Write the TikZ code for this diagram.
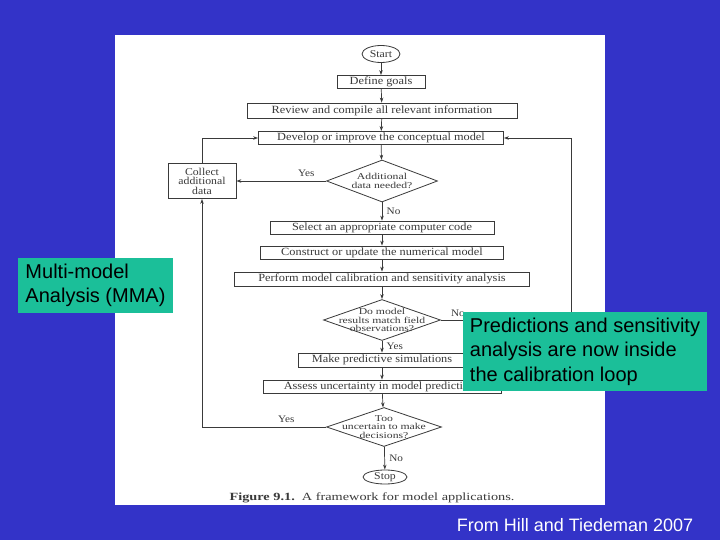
\documentclass[tikz,border=0pt]{standalone}
\usepackage{fontspec}
\setmainfont{Liberation Serif}
\newfontfamily\bookfont[FakeStretch=1.12]{Liberation Serif}
\newfontfamily\widefont[FakeStretch=1.3]{Liberation Serif}
\newfontfamily\slidefont{Liberation Sans}
\usepackage{xcolor}
\usetikzlibrary{shapes.geometric, arrows.meta}
\definecolor{slideblue}{HTML}{3333C8}
\definecolor{notegreen}{HTML}{1BBF99}
\definecolor{inkgray}{HTML}{3A3A3A}

\begin{document}
\begin{tikzpicture}[
    x=1pt, y=-1pt,
    stepbox/.style={rectangle, draw=inkgray, line width=0.8pt, minimum height=#1,
                    inner sep=0pt, font=\bookfont\fontsize{11}{12}\selectfont, text=inkgray},
    stepbox/.default=13pt,
    decision/.style={diamond, draw=inkgray, line width=0.8pt, inner sep=0pt},
    decisiontext/.style={align=center, inner sep=0pt,
                         font=\widefont\fontsize{9}{8.7}\selectfont, text=inkgray},
    terminal/.style={ellipse, draw=inkgray, line width=0.8pt, inner sep=0pt,
                     font=\bookfont\fontsize{10.5}{11}\selectfont, text=inkgray},
    answer/.style={font=\bookfont\fontsize{10}{11}\selectfont, text=inkgray},
    note/.style={rectangle, fill=notegreen, inner sep=0pt, minimum width=#1,
                 align=left, font=\slidefont\fontsize{20}{24.5}\selectfont, text=black},
    arrow/.style={-{Stealth[length=5pt, width=3.5pt]}, draw=inkgray, line width=0.7pt}
]

% Slide and page
\fill[slideblue] (0,0) rectangle (720,540);
\fill[white] (115,35) rectangle (605,505);

% Components
\node[terminal, minimum width=38pt, minimum height=17pt] at (381,54) (start) {Start};
\node[stepbox, minimum width=88pt] at (381,82) (goals) {Define goals};
\node[stepbox=15pt, minimum width=270pt] at (382,110.5) (review) {Review and compile all relevant information};
\node[stepbox, minimum width=245pt] at (381,138) (concept) {Develop or improve the conceptual model};
\node[decision, minimum width=111pt, minimum height=42pt,
      label={[decisiontext]center:Additional\\data needed?}] at (382,181) (needdata) {};
\node[stepbox=35pt, minimum width=68pt, align=center, font=\bookfont\fontsize{10.5}{9.5}\selectfont]
    at (202,181) (collect) {Collect\\additional\\data};
\node[stepbox, minimum width=224pt] at (382,227.5) (code) {Select an appropriate computer code};
\node[stepbox, minimum width=243pt] at (382,252.5) (numerical) {Construct or update the numerical model};
\node[stepbox=14pt, minimum width=295pt] at (382,279) (calib) {Perform model calibration and sensitivity analysis};
\node[decision, minimum width=117pt, minimum height=41pt,
      label={[decisiontext]center:Do model\\results match field\\observations?}] at (382,320) (match) {};
\node[stepbox=14pt, minimum width=168pt] at (382,360) (predict) {Make predictive simulations};
\node[stepbox, minimum width=238pt] at (382,386.5) (uncert) {Assess uncertainty in model predictions};
\node[decision, minimum width=115pt, minimum height=39pt,
      label={[decisiontext]center:Too\\uncertain to make\\decisions?}] at (384,427) (toouncertain) {};
\node[terminal, minimum width=44pt, minimum height=14pt] at (385,477) (stop) {Stop};
\node[font=\widefont\fontsize{11}{12}\selectfont, text=inkgray] at (372,497.5) (caption)
    {\textbf{Figure 9.1.}\ \ A framework for model applications.};

% Arrows
\draw[arrow] (start) -- (goals);
\draw[arrow] (goals) -- (review);
\draw[arrow] (review) -- (concept);
\draw[arrow] (concept) -- (needdata);
\draw[arrow] (needdata) -- node[answer, above=1pt, pos=0.22] {Yes} (collect);
\draw[arrow] (collect.north) |- (concept.west);
\draw[arrow] (needdata) -- node[answer, right=1pt] {No} (code);
\draw[arrow] (code) -- (numerical);
\draw[arrow] (numerical) -- (calib);
\draw[arrow] (calib) -- (match);
\draw[arrow] (match.east) -- node[answer, above=0pt, pos=0.13] {No} ++(130.5,0) |- (concept.east);
\draw[arrow] (match) -- node[answer, right=1pt] {Yes} (predict);
\draw[arrow] (predict) -- (uncert);
\draw[arrow] (uncert) -- (toouncertain);
\draw[arrow] (toouncertain.west) -| node[answer, above=1pt, pos=0.16] {Yes} (collect.south);
\draw[arrow] (toouncertain) -- node[answer, right=1pt] {No} (stop);

% Slide notes
\node[note=155pt, minimum height=55pt] at (95.5,285.5) (mma)
    {Multi-model\\Analysis (MMA)};
\node[note=244pt, minimum height=79pt] at (585,351.5) (inside)
    {Predictions and sensitivity\\analysis are now inside\\the calibration loop};
\node[font=\slidefont\fontsize{18}{20}\selectfont, text=white] at (575,525) (source)
    {From Hill and Tiedeman 2007};

\end{tikzpicture}
\end{document}
